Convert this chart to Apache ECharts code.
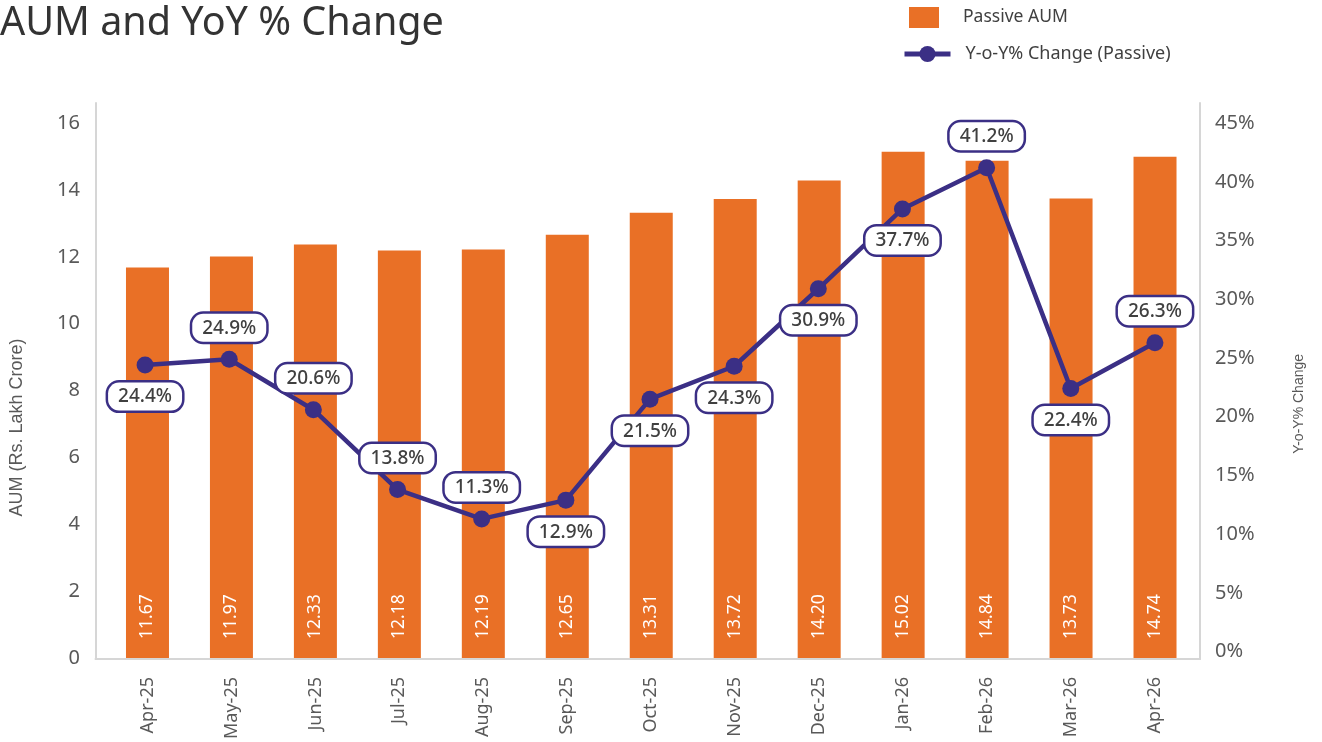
<!DOCTYPE html>
<html>
<head>
<meta charset="utf-8">
<script src="https://cdn.jsdelivr.net/npm/echarts@6/dist/echarts.min.js"></script>
<style>
html,body{margin:0;padding:0;background:#fff;}
#chart{width:1322px;height:742px;}
</style>
</head>
<body>
<div id="chart"></div>
<script>
// ---- data ----
const months = ['Apr-25','May-25','Jun-25','Jul-25','Aug-25','Sep-25','Oct-25','Nov-25','Dec-25','Jan-26','Feb-26','Mar-26','Apr-26'];
// bar heights (Rs. Lakh Crore)
const aumBarValues = [11.68, 12.01, 12.37, 12.19, 12.22, 12.66, 13.32, 13.73, 14.28, 15.14, 14.87, 13.74, 14.99];
// printed figures inside the bars
const aumLabels = ['11.67','11.97','12.33','12.18','12.19','12.65','13.31','13.72','14.20','15.02','14.84','13.73','14.74'];
// Y-o-Y % change (Passive)
const yoyValues = [24.4, 24.9, 20.6, 13.8, 11.3, 12.9, 21.5, 24.3, 30.9, 37.7, 41.2, 22.4, 26.3];
const leftTicks = {min: 0, interval: 2};
const rightTicks = {min: 0, max: 45, interval: 5};

// ---- styling ----
const labelSide = ['bottom','top','top','top','top','bottom','bottom','bottom','bottom','bottom','top','bottom','top'];
const FONT = '"Noto Sans", Roboto, sans-serif';
const NAMEFONT = '"Liberation Sans", Arial, sans-serif';
const ORANGE = '#E97026';
const PURPLE = '#3B2F85';
const AXIS = '#D6D6D6';
const TXT = '#595959';

const chart = echarts.init(document.getElementById('chart'));
const hiddenAxis = {axisLabel:{show:false}, axisTick:{show:false}, splitLine:{show:false}};

chart.setOption({
  animation: false,
  backgroundColor: '#fff',
  title: {
    text: 'AUM and YoY % Change',
    left: 0, top: 4, padding: 0,
    textStyle: {fontFamily: FONT, fontSize: 39.5, fontWeight: 'normal', color: '#333333'}
  },
  legend: [
    {
      data: ['Passive AUM'], left: 909, top: 7, orient: 'vertical', padding: 0,
      itemWidth: 30, itemHeight: 21, icon: 'rect',
      textStyle: {fontFamily: FONT, fontSize: 17.5, color: '#404040', padding: [0,0,0,19]}
    },
    {
      data: ['Y-o-Y% Change (Passive)'], left: 902, top: 45, orient: 'vertical', padding: 0,
      itemWidth: 46, itemHeight: 20,
      lineStyle: {width: 5},
      textStyle: {fontFamily: FONT, fontSize: 18, color: '#404040', padding: [0,0,0,10]}
    }
  ],
  grid: [
    {left: 95.5, top: 103, width: 1104.5, height: 556},
    {left: 103, top: 103, width: 1094, height: 556},
    {left: 103, top: 123.2, width: 1094, height: 528.4}
  ],
  xAxis: [
    Object.assign({type:'category', gridIndex:0, data:[''],
      axisLine:{show:true, lineStyle:{color:AXIS, width:2}}}, hiddenAxis),
    {type:'category', gridIndex:1, data: months,
      axisLine:{show:false}, axisTick:{show:false},
      axisLabel:{rotate:90, margin:19, fontFamily:FONT, fontSize:18, color:TXT, interval:0}},
    Object.assign({type:'category', gridIndex:2, data: months, axisLine:{show:false}}, hiddenAxis)
  ],
  yAxis: [
    Object.assign({type:'value', gridIndex:0, position:'left', min:0, max:1,
      axisLine:{show:true, lineStyle:{color:AXIS, width:2}}}, hiddenAxis),
    Object.assign({type:'value', gridIndex:0, position:'right', min:0, max:1,
      axisLine:{show:true, lineStyle:{color:AXIS, width:2}}}, hiddenAxis),
    {type:'value', gridIndex:1, position:'left', offset:7.5,
      min: leftTicks.min, max: 16.6, interval: leftTicks.interval,
      axisLine:{show:false}, axisTick:{show:false}, splitLine:{show:false},
      axisLabel:{showMaxLabel:false, margin:18, fontFamily:FONT, fontSize:20, color:TXT},
      name:'AUM (Rs. Lakh Crore)', nameLocation:'middle', nameGap:72,
      nameTextStyle:{fontFamily:NAMEFONT, fontSize:18, color:TXT, padding:[0,94,0,0]}
    },
    {type:'value', gridIndex:2, position:'right',
      min: rightTicks.min, max: rightTicks.max, interval: rightTicks.interval,
      axisLine:{show:false}, axisTick:{show:false}, splitLine:{show:false},
      axisLabel:{formatter:'{value}%', margin:18, fontFamily:FONT, fontSize:20, color:TXT},
      name:'Y-o-Y% Change', nameLocation:'middle', nameGap:95,
      nameTextStyle:{fontFamily:NAMEFONT, fontSize:14, color:TXT, padding:[0,33,0,0]}
    }
  ],
  series: [
    {
      name: 'Passive AUM', type: 'bar', xAxisIndex: 1, yAxisIndex: 2,
      data: aumBarValues, barWidth: 43,
      itemStyle: {color: ORANGE},
      label: {
        show: true, position: 'insideBottom', distance: 19, rotate: 90,
        align: 'left', verticalAlign: 'middle',
        formatter: p => aumLabels[p.dataIndex],
        fontFamily: FONT, fontSize: 17.5, color: '#ffffff'
      }
    },
    {
      name: 'Y-o-Y% Change (Passive)', type: 'line', xAxisIndex: 2, yAxisIndex: 3,
      data: yoyValues.map((v, i) => ({value: v, label: {position: labelSide[i]}})),
      symbol: 'circle', symbolSize: 17,
      lineStyle: {color: PURPLE, width: 4.5},
      itemStyle: {color: PURPLE},
      z: 5,
      label: {
        show: true, distance: 9,
        formatter: p => p.value.toFixed(1) + '%',
        backgroundColor: '#ffffff', borderColor: PURPLE, borderWidth: 2.5, borderRadius: 11,
        padding: [5, 10, 4, 10],
        fontFamily: FONT, fontSize: 19, fontWeight: 500, color: '#404040'
      }
    }
  ]
});
</script>
</body>
</html>
